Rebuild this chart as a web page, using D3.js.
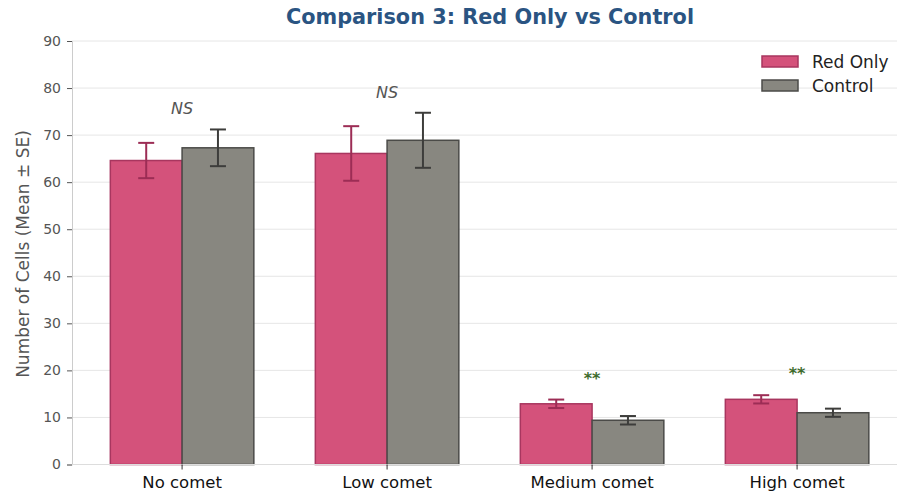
<!DOCTYPE html>
<html>
<head>
<meta charset="utf-8">
<script src="https://cdn.jsdelivr.net/npm/d3@7"></script>
<style>
  body { margin: 0; background: #fff; }
  text { font-family: "DejaVu Sans", sans-serif; }
</style>
</head>
<body>
<div id="chart-area"></div>
<script>

// data
var categories = ["No comet", "Low comet", "Medium comet", "High comet"];
var seriesNames = ["Red Only", "Control"];
var redMeans = [64.6, 66.1, 12.9, 13.85];
var redSE = [3.75, 5.8, 0.9, 0.88];
var controlMeans = [67.3, 68.9, 9.4, 11.0];
var controlSE = [3.9, 5.85, 0.9, 0.87];
var sigLabels = ["NS", "NS", "**", "**"];
var yTicks = [0, 10, 20, 30, 40, 50, 60, 70, 80, 90];

var fills = ["#d4527b", "#888780"];
var edges = ["#a8365f", "#4b4b48"];
var errColors = ["#9c2d55", "#3d3d3b"];

BarChart = function(_parentElement){
	this.parentElement = _parentElement;
	this.initVis();
}

BarChart.prototype.initVis = function(){
	var vis = this;

	vis.width = 897;
	vis.height = 494;

	vis.svg = d3.select("#" + vis.parentElement).append("svg")
		.attr("width", vis.width)
		.attr("height", vis.height);

	// axes area: left spine at x=72, y=0 at 464.5, y=90 at 41
	vis.left = 72;
	vis.y = d3.scaleLinear().domain([0, 90]).range([464.5, 41]);
	vis.x = d3.scaleLinear().domain([-0.537, 3.55]).range([vis.left, vis.left + 4.087 * 205]);
	vis.barW = 0.35 * 205;

	vis.wrangleData();
}

BarChart.prototype.wrangleData = function(){
	var vis = this;

	vis.displayData = [];
	categories.forEach(function(c, i){
		vis.displayData.push({ cat: i, s: 0, mean: redMeans[i], se: redSE[i] });
		vis.displayData.push({ cat: i, s: 1, mean: controlMeans[i], se: controlSE[i] });
	});

	vis.updateVis();
}

BarChart.prototype.updateVis = function(){
	var vis = this;
	var right = vis.width;

	// gridlines
	vis.svg.append("g").selectAll("line")
		.data(yTicks)
		.enter().append("line")
		.attr("x1", vis.left).attr("x2", right)
		.attr("y1", function(d) { return vis.y(d); })
		.attr("y2", function(d) { return vis.y(d); })
		.attr("stroke", "#e6e6e6")
		.attr("stroke-width", 1);

	// y axis
	var yAxis = d3.axisLeft(vis.y).tickValues(yTicks).tickSize(5).tickPadding(6);
	var gy = vis.svg.append("g")
		.attr("transform", "translate(" + vis.left + ",0)")
		.call(yAxis);
	gy.select(".domain").attr("stroke", "#cccccc");
	gy.selectAll(".tick line").attr("stroke", "#555");
	gy.selectAll(".tick text")
		.attr("fill", "#555")
		.style("font-size", "14px");

	// bars
	vis.svg.append("g").selectAll("rect")
		.data(vis.displayData)
		.enter().append("rect")
		.attr("x", function(d) { return vis.x(d.cat) + (d.s - 1) * vis.barW; })
		.attr("y", function(d) { return vis.y(d.mean); })
		.attr("width", vis.barW)
		.attr("height", function(d) { return vis.y(0) - vis.y(d.mean); })
		.attr("fill", function(d) { return fills[d.s]; })
		.attr("stroke", function(d) { return edges[d.s]; })
		.attr("stroke-width", 1.5);

	// error bars
	var eb = vis.svg.append("g").selectAll("g")
		.data(vis.displayData)
		.enter().append("g")
		.attr("transform", function(d) { return "translate(" + (vis.x(d.cat) + (d.s - 0.5) * vis.barW) + ",0)"; })
		.attr("stroke", function(d) { return errColors[d.s]; })
		.attr("stroke-width", 2);
	eb.append("line")
		.attr("y1", function(d) { return vis.y(d.mean - d.se); })
		.attr("y2", function(d) { return vis.y(d.mean + d.se); });
	eb.append("line").attr("x1", -8).attr("x2", 8)
		.attr("y1", function(d) { return vis.y(d.mean + d.se); })
		.attr("y2", function(d) { return vis.y(d.mean + d.se); });
	eb.append("line").attr("x1", -8).attr("x2", 8)
		.attr("y1", function(d) { return vis.y(d.mean - d.se); })
		.attr("y2", function(d) { return vis.y(d.mean - d.se); });

	// x axis (bottom spine + ticks)
	vis.svg.append("line")
		.attr("x1", vis.left).attr("x2", right)
		.attr("y1", vis.y(0)).attr("y2", vis.y(0))
		.attr("stroke", "#dddddd");
	var gx = vis.svg.append("g").selectAll("g")
		.data(categories)
		.enter().append("g")
		.attr("transform", function(d, i) { return "translate(" + vis.x(i) + "," + vis.y(0) + ")"; });
	gx.append("line").attr("y1", 0).attr("y2", 5).attr("stroke", "#333");
	gx.append("text")
		.attr("y", 23)
		.attr("text-anchor", "middle")
		.attr("fill", "#111")
		.style("font-size", "16.5px")
		.text(function(d) { return d; });

	// significance labels
	vis.svg.append("g").selectAll("text")
		.data(sigLabels)
		.enter().append("text")
		.attr("x", function(d, i) { return vis.x(i); })
		.attr("y", function(d, i) {
			var top = Math.max(redMeans[i] + redSE[i], controlMeans[i] + controlSE[i]);
			return vis.y(top + 3.2) + (d == "**" ? -1 : 0);
		})
		.attr("text-anchor", "middle")
		.attr("fill", function(d) { return d == "NS" ? "#555" : "#3e6b2c"; })
		.style("font-size", "16px")
		.style("font-style", function(d) { return d == "NS" ? "italic" : "normal"; })
		.style("font-weight", function(d) { return d == "NS" ? "normal" : "bold"; })
		.text(function(d) { return d; });

	// y label
	vis.svg.append("text")
		.attr("transform", "translate(29,254) rotate(-90)")
		.attr("text-anchor", "middle")
		.attr("fill", "#555")
		.style("font-size", "17px")
		.text("Number of Cells (Mean ± SE)");

	// title
	vis.svg.append("text")
		.attr("x", 490).attr("y", 24)
		.attr("text-anchor", "middle")
		.attr("fill", "#2a5482")
		.style("font-size", "20.8px")
		.style("font-weight", "bold")
		.text("Comparison 3: Red Only vs Control");

	// legend
	var lg = vis.svg.append("g").selectAll("g")
		.data(seriesNames)
		.enter().append("g")
		.attr("transform", function(d, i) { return "translate(762," + (56 + i * 24) + ")"; });
	lg.append("rect")
		.attr("width", 36).attr("height", 11)
		.attr("fill", function(d, i) { return fills[i]; })
		.attr("stroke", function(d, i) { return edges[i]; })
		.attr("stroke-width", 1.5);
	lg.append("text")
		.attr("x", 50).attr("y", 12)
		.attr("fill", "#222")
		.style("font-size", "17px")
		.text(function(d) { return d; });
}

var chart = new BarChart("chart-area");
</script>
</body>
</html>
